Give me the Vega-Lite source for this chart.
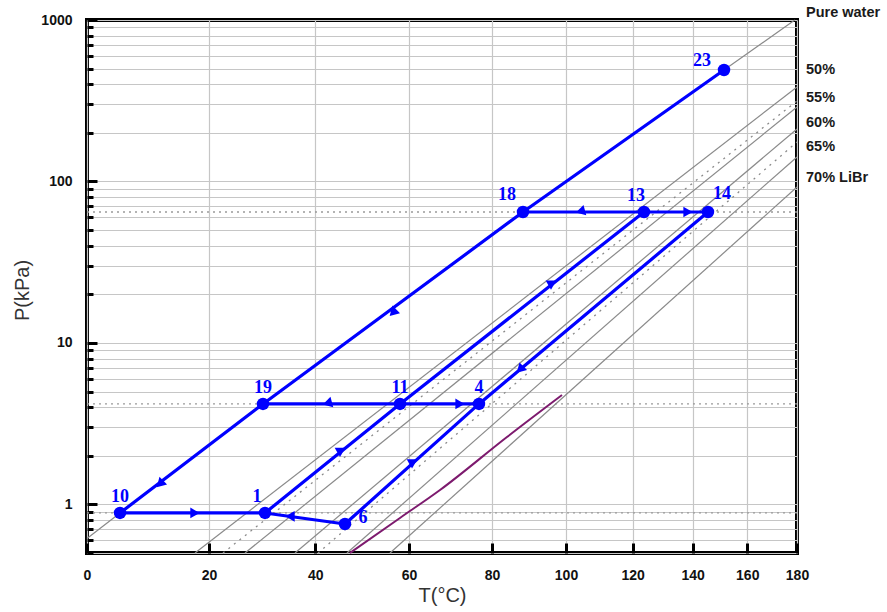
{
  "$schema": "https://vega.github.io/schema/vega-lite/v6.json",
  "width": 710,
  "height": 533,
  "autosize": {"type": "none"},
  "padding": {"left": 87, "top": 20, "right": 90, "bottom": 59},
  "background": "white",
  "config": {
    "view": {"stroke": "black", "strokeWidth": 4},
    "axis": {
      "domain": false,
      "grid": true,
      "gridColor": "#c6c6c6",
      "gridWidth": 1.2,
      "labelFont": "Liberation Sans",
      "labelFontWeight": "bold",
      "labelFontSize": 14,
      "labelColor": "#111111",
      "labelOverlap": false,
      "labelFlush": false,
      "labelBound": false,
      "titleFont": "Liberation Sans",
      "titleFontWeight": "normal",
      "titleFontSize": 20,
      "titleColor": "#333333",
      "tickColor": "black",
      "tickWidth": 3
    }
  },
  "datasets": {
    "iso": [
      {"line": "Pure water", "ord": 1, "TK": 273.15, "P": 0.614},
      {"line": "Pure water", "ord": 2, "TK": 278.29, "P": 0.885},
      {"line": "Pure water", "ord": 3, "TK": 302.98, "P": 4.19},
      {"line": "Pure water", "ord": 4, "TK": 361.27, "P": 64.7},
      {"line": "Pure water", "ord": 5, "TK": 424.4, "P": 490},
      {"line": "Pure water", "ord": 6, "TK": 452.22, "P": 1000},
      {"line": "50%", "ord": 1, "TK": 290.72, "P": 0.5},
      {"line": "50%", "ord": 2, "TK": 453.15, "P": 384.6},
      {"line": "aux1", "ord": 1, "TK": 295.64, "P": 0.5},
      {"line": "aux1", "ord": 2, "TK": 453.15, "P": 315.2},
      {"line": "55%", "ord": 1, "TK": 299.64, "P": 0.5},
      {"line": "55%", "ord": 2, "TK": 453.15, "P": 289.2},
      {"line": "60%", "ord": 1, "TK": 309.12, "P": 0.5},
      {"line": "60%", "ord": 2, "TK": 453.15, "P": 211.3},
      {"line": "aux2", "ord": 1, "TK": 313.69, "P": 0.5},
      {"line": "aux2", "ord": 2, "TK": 453.15, "P": 175.5},
      {"line": "65%", "ord": 1, "TK": 319.64, "P": 0.5},
      {"line": "65%", "ord": 2, "TK": 453.15, "P": 141.8},
      {"line": "70%", "ord": 1, "TK": 328.9, "P": 0.5},
      {"line": "70%", "ord": 2, "TK": 453.15, "P": 92.4}
    ],
    "levels": [{"P": 64.7}, {"P": 4.19}, {"P": 0.885}],
    "cryst": [
      {"TK": 320.27, "P": 0.5},
      {"TK": 331.13, "P": 0.824},
      {"TK": 340.37, "P": 1.228},
      {"TK": 357.04, "P": 2.615},
      {"TK": 372.01, "P": 4.76}
    ],
    "cycle": [
      {"seg": "a", "ord": 1, "TK": 424.4, "P": 490},
      {"seg": "a", "ord": 2, "TK": 361.27, "P": 64.7},
      {"seg": "a", "ord": 3, "TK": 302.98, "P": 4.19},
      {"seg": "a", "ord": 4, "TK": 278.29, "P": 0.885},
      {"seg": "b", "ord": 1, "TK": 278.29, "P": 0.885},
      {"seg": "b", "ord": 2, "TK": 303.36, "P": 0.885},
      {"seg": "c", "ord": 1, "TK": 303.36, "P": 0.885},
      {"seg": "c", "ord": 2, "TK": 319.22, "P": 0.756},
      {"seg": "d", "ord": 1, "TK": 303.36, "P": 0.885},
      {"seg": "d", "ord": 2, "TK": 331.14, "P": 4.19},
      {"seg": "d", "ord": 3, "TK": 396.8, "P": 64.7},
      {"seg": "e", "ord": 1, "TK": 319.22, "P": 0.756},
      {"seg": "e", "ord": 2, "TK": 349.88, "P": 4.19},
      {"seg": "e", "ord": 3, "TK": 418.57, "P": 64.7},
      {"seg": "f", "ord": 1, "TK": 302.98, "P": 4.19},
      {"seg": "f", "ord": 2, "TK": 349.88, "P": 4.19},
      {"seg": "g", "ord": 1, "TK": 361.27, "P": 64.7},
      {"seg": "g", "ord": 2, "TK": 418.57, "P": 64.7}
    ],
    "arrows": [
      {"TK": 290.71, "P": 0.885, "dir": "E"},
      {"TK": 308.15, "P": 0.843, "dir": "WNW"},
      {"TK": 318.19, "P": 2.1, "dir": "NE"},
      {"TK": 333.86, "P": 1.78, "dir": "NE"},
      {"TK": 284.78, "P": 1.34, "dir": "SW"},
      {"TK": 329.56, "P": 15.4, "dir": "SW"},
      {"TK": 316.12, "P": 4.19, "dir": "W"},
      {"TK": 345.18, "P": 4.19, "dir": "E"},
      {"TK": 368.92, "P": 22.8, "dir": "NE"},
      {"TK": 360.48, "P": 6.84, "dir": "SW"},
      {"TK": 378.06, "P": 64.7, "dir": "W"},
      {"TK": 411.52, "P": 64.7, "dir": "E"}
    ],
    "states": [
      {"label": "10", "TK": 278.29, "P": 0.885},
      {"label": "1", "TK": 303.36, "P": 0.885},
      {"label": "6", "TK": 319.22, "P": 0.756},
      {"label": "19", "TK": 302.98, "P": 4.19},
      {"label": "11", "TK": 331.14, "P": 4.19},
      {"label": "4", "TK": 349.88, "P": 4.19},
      {"label": "18", "TK": 361.27, "P": 64.7},
      {"label": "13", "TK": 396.8, "P": 64.7},
      {"label": "14", "TK": 418.57, "P": 64.7},
      {"label": "23", "TK": 424.4, "P": 490}
    ],
    "conc": [
      {"text": "Pure water", "P": 1105},
      {"text": "50%", "P": 490},
      {"text": "55%", "P": 328.9},
      {"text": "60%", "P": 230.3},
      {"text": "65%", "P": 163.5},
      {"text": "70% LiBr", "P": 105.1}
    ]
  },
  "layer": [
    {
      "data": {"name": "levels"},
      "mark": {"type": "rule", "color": "#9a9a9a", "strokeWidth": 1.3, "strokeDash": [2, 4]},
      "encoding": {
        "y": {
          "field": "P",
          "type": "quantitative",
          "scale": {"type": "log", "domain": [0.5, 1000], "nice": false},
          "title": "P(kPa)",
          "axis": {
            "values": [0.5, 0.6, 0.7, 0.8, 0.9, 1, 2, 3, 4, 5, 6, 7, 8, 9, 10, 20, 30, 40, 50, 60, 70, 80, 90, 100, 200, 300, 400, 500, 600, 700, 800, 900, 1000],
            "labelExpr": "(datum.value == 1 || datum.value == 10 || datum.value == 100 || datum.value == 1000) ? format(datum.value, 'd') : ''",
            "tickSize": {"condition": {"test": "datum.value == 1 || datum.value == 10 || datum.value == 100 || datum.value == 1000", "value": -10}, "value": -6},
            "labelPadding": 25,
            "titleX": -65,
            "titleY": 270,
            "titleAngle": -90,
            "titleAlign": "center",
            "titleBaseline": "middle"
          }
        }
      }
    },
    {
      "data": {"name": "iso"},
      "transform": [{"filter": "datum.line != 'aux1' && datum.line != 'aux2'"}],
      "mark": {"type": "line", "color": "#8a8a8a", "strokeWidth": 1.2},
      "encoding": {
        "x": {
          "field": "TK",
          "type": "quantitative",
          "scale": {"type": "pow", "exponent": -1, "domain": [273.15, 453.15], "nice": false, "zero": false},
          "title": "T(°C)",
          "axis": {
            "values": [273.15, 283.15, 293.15, 303.15, 313.15, 323.15, 333.15, 343.15, 353.15, 363.15, 373.15, 383.15, 393.15, 403.15, 413.15, 423.15, 433.15, 443.15, 453.15],
            "labelExpr": "(round(datum.value - 273.15) % 20 == 0) ? format(round(datum.value - 273.15), 'd') : ''",
            "tickSize": {"condition": {"test": "round(datum.value - 273.15) % 20 == 0", "value": -10}, "value": -6},
            "labelPadding": 25,
            "titleX": 355,
            "titleY": 32,
            "titleAlign": "center",
            "titleBaseline": "top"
          }
        },
        "y": {"field": "P", "type": "quantitative"},
        "detail": {"field": "line"},
        "order": {"field": "ord"}
      }
    },
    {
      "data": {"name": "iso"},
      "transform": [{"filter": "datum.line == 'aux1' || datum.line == 'aux2'"}],
      "mark": {"type": "line", "color": "#8a8a8a", "strokeWidth": 1.3, "strokeDash": [2, 5]},
      "encoding": {
        "x": {"field": "TK", "type": "quantitative"},
        "y": {"field": "P", "type": "quantitative"},
        "detail": {"field": "line"},
        "order": {"field": "ord"}
      }
    },
    {
      "data": {"name": "cryst"},
      "mark": {"type": "line", "color": "#7d1a6e", "strokeWidth": 2, "interpolate": "monotone"},
      "encoding": {
        "x": {"field": "TK", "type": "quantitative"},
        "y": {"field": "P", "type": "quantitative"}
      }
    },
    {
      "data": {"name": "cycle"},
      "mark": {"type": "line", "color": "#0000ff", "strokeWidth": 3.2},
      "encoding": {
        "x": {"field": "TK", "type": "quantitative"},
        "y": {"field": "P", "type": "quantitative"},
        "detail": {"field": "seg"},
        "order": {"field": "ord"}
      }
    },
    {
      "data": {"name": "arrows"},
      "mark": {"type": "point", "shape": "triangle-up", "filled": true, "color": "#0000ff", "opacity": 1, "size": 115},
      "encoding": {
        "x": {"field": "TK", "type": "quantitative"},
        "y": {"field": "P", "type": "quantitative"},
        "angle": {"field": "dir", "type": "ordinal", "scale": {"domain": ["E", "W", "NE", "SW", "WNW"], "range": [90, 270, 51, 234, 278]}, "legend": null}
      }
    },
    {
      "data": {"name": "states"},
      "mark": {"type": "circle", "color": "#0000ff", "opacity": 1, "size": 155},
      "encoding": {
        "x": {"field": "TK", "type": "quantitative"},
        "y": {"field": "P", "type": "quantitative"}
      }
    },
    {
      "data": {"name": "states"},
      "transform": [{"filter": "indexof(['10','19','11','4'], datum.label) >= 0"}],
      "mark": {"type": "text", "font": "Liberation Serif", "fontWeight": "bold", "fontSize": 18, "color": "#0000ff", "align": "center", "baseline": "middle", "dx": 0, "dy": -16},
      "encoding": {
        "x": {"field": "TK", "type": "quantitative"},
        "y": {"field": "P", "type": "quantitative"},
        "text": {"field": "label"}
      }
    },
    {
      "data": {"name": "states"},
      "transform": [{"filter": "indexof(['1','13'], datum.label) >= 0"}],
      "mark": {"type": "text", "font": "Liberation Serif", "fontWeight": "bold", "fontSize": 18, "color": "#0000ff", "align": "center", "baseline": "middle", "dx": -8, "dy": -16},
      "encoding": {
        "x": {"field": "TK", "type": "quantitative"},
        "y": {"field": "P", "type": "quantitative"},
        "text": {"field": "label"}
      }
    },
    {
      "data": {"name": "states"},
      "transform": [{"filter": "datum.label == '18'"}],
      "mark": {"type": "text", "font": "Liberation Serif", "fontWeight": "bold", "fontSize": 18, "color": "#0000ff", "align": "center", "baseline": "middle", "dx": -16, "dy": -17},
      "encoding": {
        "x": {"field": "TK", "type": "quantitative"},
        "y": {"field": "P", "type": "quantitative"},
        "text": {"field": "label"}
      }
    },
    {
      "data": {"name": "states"},
      "transform": [{"filter": "datum.label == '14'"}],
      "mark": {"type": "text", "font": "Liberation Serif", "fontWeight": "bold", "fontSize": 18, "color": "#0000ff", "align": "center", "baseline": "middle", "dx": 14, "dy": -18},
      "encoding": {
        "x": {"field": "TK", "type": "quantitative"},
        "y": {"field": "P", "type": "quantitative"},
        "text": {"field": "label"}
      }
    },
    {
      "data": {"name": "states"},
      "transform": [{"filter": "datum.label == '6'"}],
      "mark": {"type": "text", "font": "Liberation Serif", "fontWeight": "bold", "fontSize": 18, "color": "#0000ff", "align": "center", "baseline": "middle", "dx": 18, "dy": -6},
      "encoding": {
        "x": {"field": "TK", "type": "quantitative"},
        "y": {"field": "P", "type": "quantitative"},
        "text": {"field": "label"}
      }
    },
    {
      "data": {"name": "states"},
      "transform": [{"filter": "datum.label == '23'"}],
      "mark": {"type": "text", "font": "Liberation Serif", "fontWeight": "bold", "fontSize": 18, "color": "#0000ff", "align": "center", "baseline": "middle", "dx": -22, "dy": -9},
      "encoding": {
        "x": {"field": "TK", "type": "quantitative"},
        "y": {"field": "P", "type": "quantitative"},
        "text": {"field": "label"}
      }
    },
    {
      "data": {"name": "conc"},
      "mark": {"type": "text", "font": "Liberation Sans", "fontWeight": "bold", "fontSize": 14.5, "color": "#1a1a1a", "align": "left", "baseline": "middle", "dx": 9, "clip": false},
      "encoding": {
        "x": {"datum": 453.15, "type": "quantitative"},
        "y": {"field": "P", "type": "quantitative"},
        "text": {"field": "text"}
      }
    }
  ]
}
